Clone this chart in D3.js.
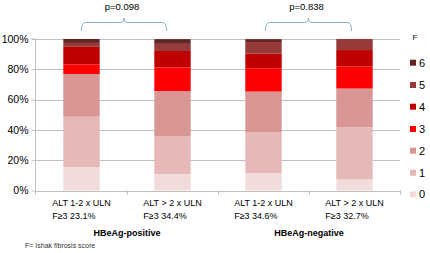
<!DOCTYPE html>
<html><head><meta charset="utf-8">
<script src="https://cdn.jsdelivr.net/npm/d3@7"></script>
<style>
body{margin:0;background:#fff;}
svg{display:block;font-family:"Liberation Sans",Arial,sans-serif;}
</style></head>
<body><svg id="c" width="430" height="253"></svg>
<script>
// ---- data ----
const categories = ["ALT 1-2 x ULN", "ALT > 2 x ULN", "ALT 1-2 x ULN", "ALT > 2 x ULN"];
const secondLines = ["F≥3 23.1%", "F≥3 34.4%", "F≥3 34.6%", "F≥3 32.7%"];
const groups = ["HBeAg-positive", "HBeAg-negative"];
const pValues = ["p=0.098", "p=0.838"];
const stages = ["0", "1", "2", "3", "4", "5", "6"];
const F0 = [15.4, 10.9, 11.5, 7.3];
const F1 = [33.3, 25.0, 26.9, 34.5];
const F2 = [28.2, 29.7, 26.9, 25.5];
const F3 = [6.4, 15.6, 15.4, 14.5];
const F4 = [11.5, 10.9, 9.6, 10.9];
const F5 = [2.6, 4.7, 7.7, 7.3];
const F6 = [2.6, 3.1, 1.9, 0];
const yTicks = [0, 20, 40, 60, 80, 100];
const colors = ["#F2DCDB", "#E6B9B8", "#D99694", "#FF0000", "#C00000", "#963B3A", "#632523"];
const footnote = "F= Ishak fibrosis score";

const series = [F0, F1, F2, F3, F4, F5, F6];
const rows = categories.map((c, i) => {
  const r = {idx: i};
  stages.forEach((s, k) => r[s] = series[k][i]);
  return r;
});

const svg = d3.select("#c");
const x = d3.scaleBand().domain(d3.range(categories.length)).range([36, 400]).paddingInner(0.6).paddingOuter(0.3);
const y = d3.scaleLinear().domain([0, 100]).range([190.5, 39]);
const grid = "#BFBFBF";

// gridlines
svg.append("g").selectAll("line").data(yTicks).join("line")
  .attr("x1", 35).attr("x2", 400)
  .attr("y1", d => Math.round(y(d)) + 0.5).attr("y2", d => Math.round(y(d)) + 0.5)
  .attr("stroke", grid).attr("stroke-width", 1);

// y axis
const yAxis = svg.append("g").attr("transform", "translate(35.5,0)")
  .call(d3.axisLeft(y).tickValues(yTicks).tickFormat(d => d + "%").tickSize(4).tickPadding(3));
yAxis.selectAll("path,line").attr("stroke", grid);
yAxis.selectAll("text").attr("font-size", "10.5px").attr("fill", "#000").attr("font-family", "Liberation Sans, Arial, sans-serif");
yAxis.select(".domain").attr("d", `M-4,${y(100)}H0V${y(0)}`);

// x axis line and boundary ticks
const bounds = [35].concat(d3.range(1, categories.length).map(i => x(i) - x.step() * x.paddingInner() / 2)).concat([400]);
svg.append("line").attr("x1", 35).attr("x2", 400).attr("y1", Math.round(y(0)) + 0.5).attr("y2", Math.round(y(0)) + 0.5).attr("stroke", grid);
svg.append("g").selectAll("line").data(bounds).join("line")
  .attr("x1", d => Math.round(d) + 0.5).attr("x2", d => Math.round(d) + 0.5)
  .attr("y1", y(0)).attr("y2", y(0) + 4).attr("stroke", grid);

// stacked bars
const stacked = d3.stack().keys(stages)(rows);
svg.append("g").selectAll("g").data(stacked).join("g")
  .attr("fill", (d, i) => colors[i])
  .selectAll("rect").data(d => d).join("rect")
  .attr("x", d => x(d.data.idx))
  .attr("width", x.bandwidth())
  .attr("y", d => y(d[1]))
  .attr("height", d => Math.max(0, y(d[0]) - y(d[1])));

// category labels
const catG = svg.append("g").attr("font-size", "9px").attr("fill", "#000");
categories.forEach((c, i) => {
  const cx = x(i) + x.bandwidth() / 2;
  const t1 = catG.append("text").attr("x", cx).attr("y", 205.5).attr("text-anchor", "middle").text(c);
  const w = t1.node().getComputedTextLength();
  catG.append("text").attr("x", cx - w / 2).attr("y", 219).text(secondLines[i]);
});

// group labels
groups.forEach((g, gi) => {
  const gx = x(gi * 2) + x.bandwidth() / 2 + x.step() / 2;
  svg.append("text").attr("x", gx).attr("y", 236).attr("text-anchor", "middle")
    .attr("font-size", "9px").attr("font-weight", "bold").text(g);
});

// brackets with p-values
const braceColor = "#8EA7C3";
pValues.forEach((p, gi) => {
  const x1 = x(gi * 2) + x.bandwidth() / 2 + (gi === 0 ? 0 : 2);
  const x2 = x(gi * 2 + 1) + x.bandwidth() / 2 - (gi === 0 ? 6 : 3);
  const m = (x1 + x2) / 2;
  const yb = 31, yh = 22.5, yp = 18, r = 4;
  const path = `M${x1},${yb} Q${x1},${yh} ${x1 + r},${yh} L${m - r},${yh} Q${m},${yh} ${m},${yp} Q${m},${yh} ${m + r},${yh} L${x2 - r},${yh} Q${x2},${yh} ${x2},${yb}`;
  svg.append("path").attr("d", path).attr("fill", "none").attr("stroke", braceColor).attr("stroke-width", 1);
  svg.append("text").attr("x", m - 2).attr("y", 10).attr("text-anchor", "middle").attr("font-size", "9.5px").text(p);
});

// legend
const legY = [62.7, 85, 106.7, 129, 150.7, 172.7, 194.3];
svg.append("text").attr("x", 415).attr("y", 40).attr("text-anchor", "middle").attr("font-size", "8px").text("F");
const legOrder = stages.slice().reverse();
const lg = svg.append("g").selectAll("g").data(legOrder).join("g")
  .attr("transform", (d, i) => `translate(410,${legY[i]})`);
lg.append("rect").attr("x", 0).attr("y", -3).attr("width", 6).attr("height", 6).attr("fill", d => colors[+d]);
lg.append("text").attr("x", 9).attr("y", 4).attr("font-size", "11px").text(d => d);

// footnote
svg.append("text").attr("x", 25).attr("y", 248).attr("font-size", "7px").attr("fill", "#333").text(footnote);
</script></body></html>
